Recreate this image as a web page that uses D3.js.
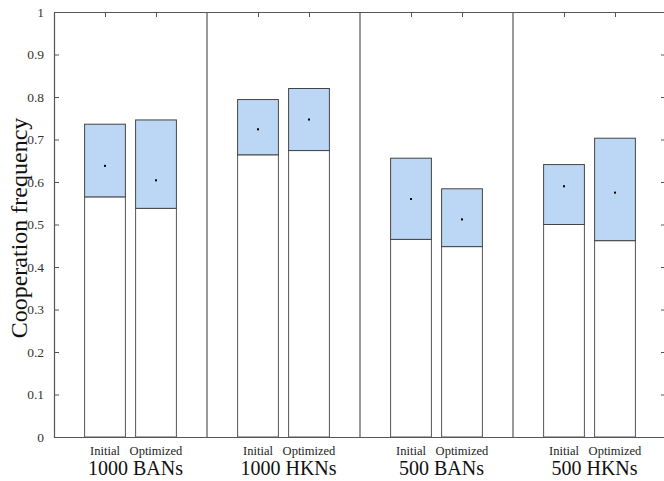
<!DOCTYPE html>
<html>
<head>
<meta charset="utf-8">
<script src="https://cdn.jsdelivr.net/npm/d3@7"></script>
<style>
  body { margin: 0; background: #fff; }
  svg { display: block; }
  svg text { font-family: "Liberation Serif", "Times New Roman", serif !important; }
</style>
</head>
<body>
<div id="chart"></div>
<script>
// groups and bar labels
var groups = ['1000 BANs', '1000 HKNs', '500 BANs', '500 HKNs'];
var conditions = ['Initial', 'Optimized'];

// values (one per bar, group by group)
var lows  = [0.565, 0.538, 0.664, 0.674, 0.465, 0.448, 0.500, 0.462];
var highs = [0.736, 0.746, 0.794, 0.820, 0.656, 0.584, 0.641, 0.703];
var means = [0.638, 0.604, 0.724, 0.747, 0.560, 0.512, 0.590, 0.575];

var yTicks = [0, 0.1, 0.2, 0.3, 0.4, 0.5, 0.6, 0.7, 0.8, 0.9, 1];

var width = 664, height = 481;
var margin = {top: 12, left: 54};
var plotW = 612, plotH = 425;
var barW = 0.8;
var axisColor = '#555';

var svg = d3.select('#chart')
    .append('svg')
    .attr('width', width)
    .attr('height', height);

// bar position in x units: 1,2 | 4,5 | 7,8 | 10,11
var pos = function(i) { return Math.floor(i / 2) * 3 + (i % 2) + 1; };

var x = d3.scaleLinear().domain([0, 12]).range([margin.left, margin.left + plotW]);
var y = d3.scaleLinear().domain([0, 1]).range([margin.top + plotH, margin.top]);

var bars = lows.map(function(d, i) {
    return {low: d, high: highs[i], mean: means[i], p: pos(i), cond: conditions[i % 2]};
});

// group separators
svg.selectAll('line.sep')
    .data([3, 6, 9])
    .enter()
    .append('line')
    .attr('class', 'sep')
    .attr('x1', function(d) { return x(d); })
    .attr('x2', function(d) { return x(d); })
    .attr('y1', y(0))
    .attr('y2', y(1))
    .attr('stroke', axisColor)
    .attr('stroke-width', 1.2);

// white lower part
svg.selectAll('rect.lo')
    .data(bars)
    .enter()
    .append('rect')
    .attr('class', 'lo')
    .attr('x', function(d) { return x(d.p - barW / 2); })
    .attr('width', x(barW) - x(0))
    .attr('y', function(d) { return y(d.low); })
    .attr('height', function(d) { return y(0) - y(d.low); })
    .attr('fill', '#fff')
    .attr('stroke', '#555')
    .attr('stroke-width', 1);

// blue box
svg.selectAll('rect.hi')
    .data(bars)
    .enter()
    .append('rect')
    .attr('class', 'hi')
    .attr('x', function(d) { return x(d.p - barW / 2); })
    .attr('width', x(barW) - x(0))
    .attr('y', function(d) { return y(d.high); })
    .attr('height', function(d) { return y(d.low) - y(d.high); })
    .attr('fill', '#bcd7f5')
    .attr('stroke', '#444')
    .attr('stroke-width', 1);

// mean dots
svg.selectAll('rect.dot')
    .data(bars)
    .enter()
    .append('rect')
    .attr('class', 'dot')
    .attr('x', function(d) { return x(d.p) - 1; })
    .attr('y', function(d) { return y(d.mean) - 1; })
    .attr('width', 2)
    .attr('height', 2)
    .attr('fill', '#000');

// axes
var axLeft = svg.append('g')
    .attr('transform', 'translate(' + x(0) + ',0)')
    .call(d3.axisLeft(y).tickValues(yTicks).tickFormat(d3.format('')).tickSizeInner(-5).tickSizeOuter(0).tickPadding(10));
var axRight = svg.append('g')
    .attr('transform', 'translate(' + x(12) + ',0)')
    .call(d3.axisRight(y).tickValues(yTicks).tickFormat('').tickSizeInner(-5).tickSizeOuter(0));
var axTop = svg.append('g')
    .attr('transform', 'translate(0,' + y(1) + ')')
    .call(d3.axisTop(x).tickValues(bars.map(function(d) { return d.p; })).tickFormat('').tickSizeInner(-5).tickSizeOuter(0));
var axBottom = svg.append('g')
    .attr('transform', 'translate(0,' + y(0) + ')')
    .call(d3.axisBottom(x).tickValues([]).tickSizeOuter(0));

[axLeft, axRight, axTop, axBottom].forEach(function(g) {
    g.select('.domain').attr('stroke', axisColor).attr('stroke-width', 1.2);
    g.selectAll('.tick line').attr('stroke', axisColor);
});
axLeft.attr('font-size', 13.5);
axLeft.selectAll('.tick text').attr('fill', '#333');

// bar labels
svg.selectAll('text.cond')
    .data(bars)
    .enter()
    .append('text')
    .attr('class', 'cond')
    .attr('x', function(d) { return x(d.p); })
    .attr('y', 455)
    .attr('text-anchor', 'middle')
    .attr('font-size', 12.5)
    .attr('fill', '#222')
    .text(function(d) { return d.cond; });

// group labels
svg.selectAll('text.grp')
    .data(groups)
    .enter()
    .append('text')
    .attr('class', 'grp')
    .attr('x', function(d, i) { return x(i * 3 + 1.5) + 5; })
    .attr('y', 475)
    .attr('text-anchor', 'middle')
    .attr('font-size', 20)
    .attr('fill', '#111')
    .text(function(d) { return d; });

// y title
svg.append('text')
    .attr('transform', 'translate(27,228) rotate(-90)')
    .attr('text-anchor', 'middle')
    .attr('font-size', 24)
    .attr('fill', '#111')
    .text('Cooperation frequency');
</script>
</body>
</html>
